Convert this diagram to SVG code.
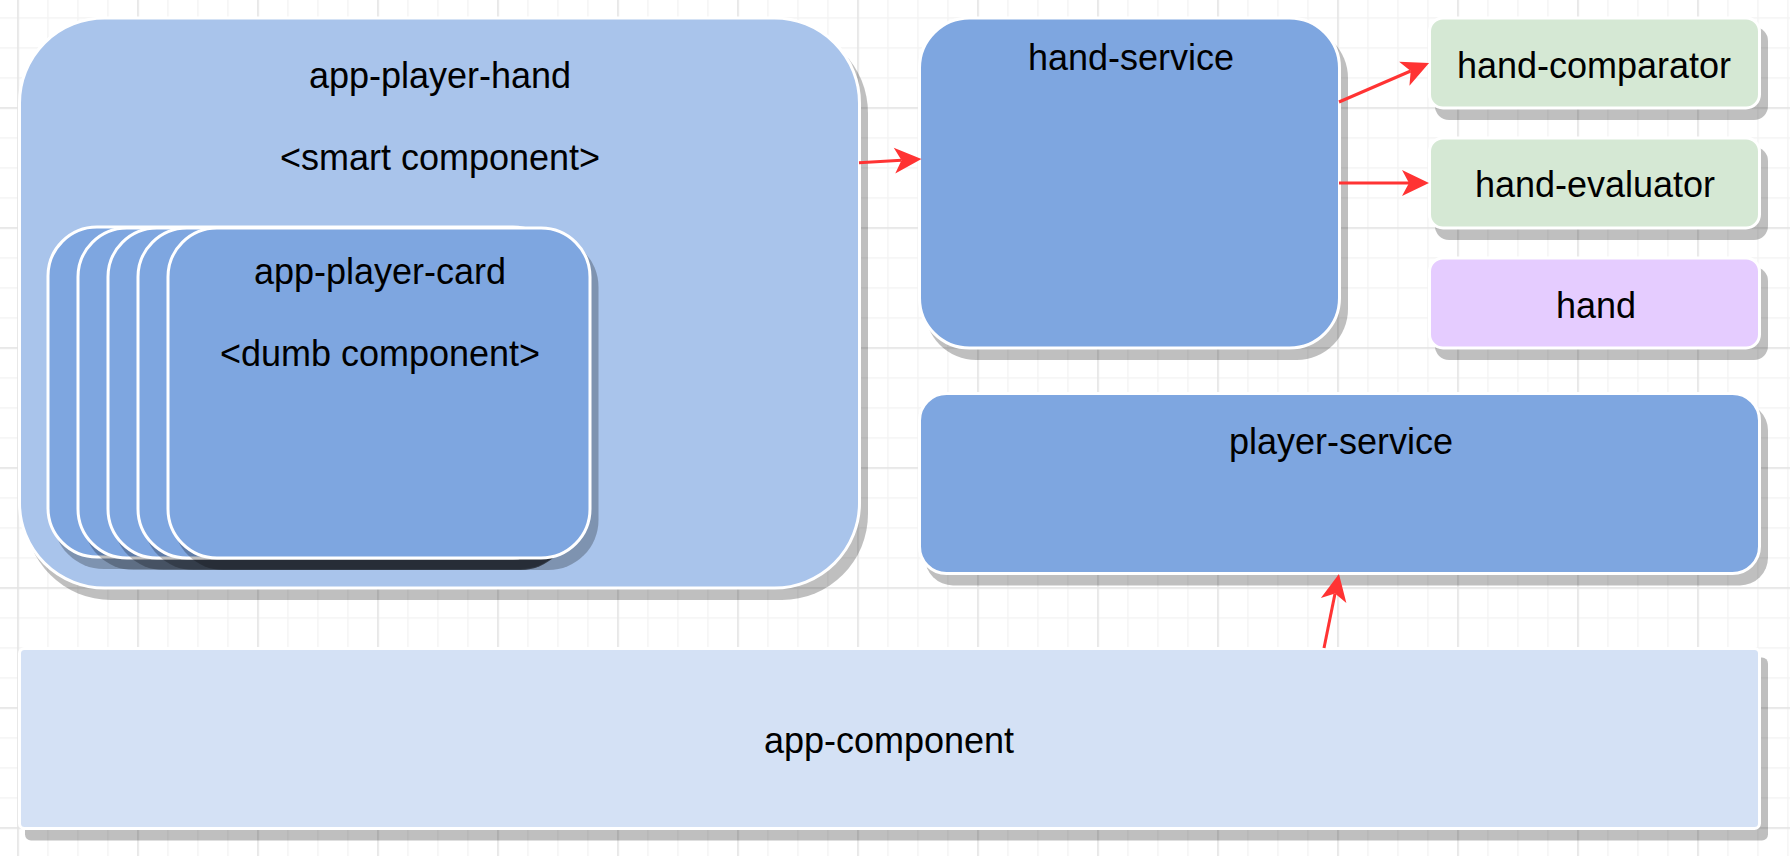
<svg xmlns="http://www.w3.org/2000/svg" width="1790" height="856" viewBox="0 0 1790 856">
  <defs>
    <pattern id="minor" patternUnits="userSpaceOnUse" x="17.25" y="17.25" width="30" height="30">
      <rect x="0" y="0" width="1.5" height="30" fill="#f3f3f3"/>
      <rect x="0" y="0" width="30" height="1.5" fill="#f3f3f3"/>
    </pattern>
    <pattern id="major" patternUnits="userSpaceOnUse" x="17.25" y="107.25" width="120" height="120">
      <rect x="0" y="0" width="1.5" height="120" fill="#e3e3e3"/>
      <rect x="0" y="0" width="120" height="1.5" fill="#e3e3e3"/>
    </pattern>
    <marker id="arrow" markerUnits="userSpaceOnUse" markerWidth="32" markerHeight="32" viewBox="-8 -16 32 32" refX="0" refY="0" orient="auto">
      <path d="M 20 0 L -7 -13 L 0 0 L -7 13 Z" fill="#ff3333"/>
    </marker>
  </defs>
  <style>
    .shadow { fill: #000000; fill-opacity: 0.25; }
    .node { stroke: #ffffff; stroke-width: 3; }
    .blue { fill: #7ea6e0; }
    .lightblue { fill: #a9c4eb; }
    .paleblue { fill: #d4e1f5; }
    .green { fill: #d5e8d4; }
    .purple { fill: #e5ccff; }
    .label { font-family: "Liberation Sans", Arial, Helvetica, sans-serif; font-size: 36px; fill: #000000; text-anchor: middle; }
    .edge { stroke: #ff3333; stroke-width: 3; fill: none; marker-end: url(#arrow); }
  </style>

  <rect x="0" y="0" width="1790" height="856" fill="#ffffff"/>
  <rect x="0" y="0" width="1790" height="856" fill="url(#minor)"/>
  <rect x="0" y="0" width="1790" height="856" fill="url(#major)"/>

  <g id="app-player-hand">
    <rect class="shadow" x="25" y="27" width="843" height="573" rx="86" ry="86"/>
    <rect class="node lightblue" x="19.5" y="18" width="840" height="570" rx="85" ry="85"/>
    <text class="label" x="440" y="88">app-player-hand</text>
    <text class="label" x="440" y="170">&lt;smart component&gt;</text>
  </g>

  <g id="app-player-card-stack">
    <rect class="shadow" x="53.5" y="236" width="517" height="333" rx="50" ry="50"/>
    <rect class="node blue" x="48" y="227" width="514" height="330" rx="49" ry="49"/>
    <rect class="shadow" x="83.5" y="237" width="487" height="333" rx="50" ry="50"/>
    <rect class="node blue" x="78" y="228" width="484" height="330" rx="49" ry="49"/>
    <rect class="shadow" x="113.5" y="237" width="457" height="333" rx="50" ry="50"/>
    <rect class="node blue" x="108" y="228" width="454" height="330" rx="49" ry="49"/>
    <rect class="shadow" x="143.5" y="237" width="427" height="333" rx="50" ry="50"/>
    <rect class="node blue" x="138" y="228" width="424" height="330" rx="49" ry="49"/>
  </g>

  <g id="app-player-card">
    <rect class="shadow" x="173.5" y="237" width="425" height="333" rx="50" ry="50"/>
    <rect class="node blue" x="168" y="228" width="422" height="330" rx="49" ry="49"/>
    <text class="label" x="380" y="284">app-player-card</text>
    <text class="label" x="380" y="366">&lt;dumb component&gt;</text>
  </g>

  <g id="hand-service">
    <rect class="shadow" x="925" y="27" width="423" height="333" rx="51" ry="51"/>
    <rect class="node blue" x="919.5" y="18" width="420" height="330" rx="50" ry="50"/>
    <text class="label" x="1131" y="70">hand-service</text>
  </g>

  <g id="hand-comparator">
    <rect class="shadow" x="1435" y="27" width="333" height="93" rx="14" ry="14"/>
    <rect class="node green" x="1429.5" y="18" width="330" height="90" rx="13.5" ry="13.5"/>
    <text class="label" x="1594" y="78">hand-comparator</text>
  </g>

  <g id="hand-evaluator">
    <rect class="shadow" x="1435" y="147" width="333" height="93" rx="14" ry="14"/>
    <rect class="node green" x="1429.5" y="138" width="330" height="90" rx="13.5" ry="13.5"/>
    <text class="label" x="1595" y="197">hand-evaluator</text>
  </g>

  <g id="hand">
    <rect class="shadow" x="1435" y="267" width="333" height="93" rx="14" ry="14"/>
    <rect class="node purple" x="1429.5" y="258" width="330" height="90" rx="13.5" ry="13.5"/>
    <text class="label" x="1596" y="318">hand</text>
  </g>

  <g id="player-service">
    <rect class="shadow" x="925" y="402.5" width="843" height="183" rx="28" ry="28"/>
    <rect class="node blue" x="919.5" y="393.5" width="840" height="180" rx="27" ry="27"/>
    <text class="label" x="1341" y="454">player-service</text>
  </g>

  <g id="app-component">
    <rect class="shadow" x="25" y="657.5" width="1743" height="183" rx="6" ry="6"/>
    <rect class="node paleblue" x="19.5" y="648.5" width="1740" height="180" rx="5" ry="5"/>
    <text class="label" x="889" y="753">app-component</text>
  </g>

  <g id="connectors">
    <line class="edge" x1="859" y1="162.7" x2="901.5" y2="160.2"/>
    <line class="edge" x1="1339" y1="102" x2="1410.7" y2="71"/>
    <line class="edge" x1="1339" y1="183" x2="1409" y2="183"/>
    <line class="edge" x1="1324" y1="648" x2="1335" y2="593.6"/>
  </g>
</svg>
